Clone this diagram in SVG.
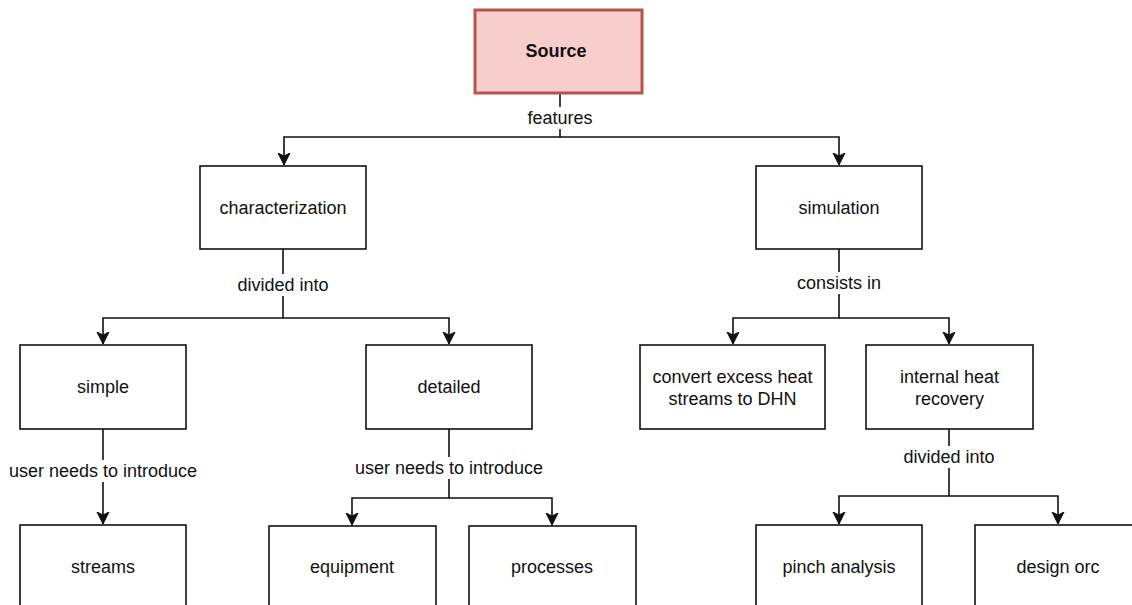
<svg xmlns="http://www.w3.org/2000/svg" width="1132" height="605" viewBox="0 0 1132 605">
  <style>
    .box { fill: #ffffff; stroke: #111111; stroke-width: 1.6; }
    .root { fill: #f8cecc; stroke: #b85450; stroke-width: 3; }
    .lbl { font-family: "Liberation Sans", Arial, sans-serif; font-size: 18px; fill: #111111; text-anchor: middle; }
    .bold { font-weight: bold; }
    .edge { fill: none; stroke: #111111; stroke-width: 1.6; }
    .bg { fill: #ffffff; }
  </style>
  <defs>
    <marker id="arrow" markerUnits="userSpaceOnUse" markerWidth="14" markerHeight="14" viewBox="0 -7 14 14" refX="12" refY="0" orient="auto">
      <path d="M0,-6 L12,0 L0,6 L3,0 Z" fill="#111111" stroke="#111111" stroke-width="1"/>
    </marker>
  </defs>
  <rect width="1132" height="605" fill="#ffffff"/>

  <!-- connectors -->
  <g id="connectors">
    <path class="edge" d="M560,93 V137 H284 V165" marker-end="url(#arrow)"/>
    <path class="edge" d="M560,137 H839 V165" marker-end="url(#arrow)"/>
    <path class="edge" d="M283,249 V318 H103 V344" marker-end="url(#arrow)"/>
    <path class="edge" d="M283,318 H449 V344" marker-end="url(#arrow)"/>
    <path class="edge" d="M103,429 V524" marker-end="url(#arrow)"/>
    <path class="edge" d="M449,429 V498 H352 V525" marker-end="url(#arrow)"/>
    <path class="edge" d="M449,498 H552 V525" marker-end="url(#arrow)"/>
    <path class="edge" d="M839,249 V318 H733 V344" marker-end="url(#arrow)"/>
    <path class="edge" d="M839,318 H949 V344" marker-end="url(#arrow)"/>
    <path class="edge" d="M949,429 V496 H839 V524" marker-end="url(#arrow)"/>
    <path class="edge" d="M949,496 H1058 V524" marker-end="url(#arrow)"/>

    <!-- edge labels -->
    <rect class="bg" x="524" y="107" width="72" height="22"/>
    <text class="lbl" x="560" y="124">features</text>
    <rect class="bg" x="233" y="274" width="100" height="22"/>
    <text class="lbl" x="283" y="291">divided into</text>
    <rect class="bg" x="792" y="272" width="94" height="22"/>
    <text class="lbl" x="839" y="289">consists in</text>
    <rect class="bg" x="7" y="460" width="193" height="22"/>
    <text class="lbl" x="103" y="477">user needs to introduce</text>
    <rect class="bg" x="353" y="457" width="193" height="22"/>
    <text class="lbl" x="449" y="474">user needs to introduce</text>
    <rect class="bg" x="899" y="446" width="100" height="22"/>
    <text class="lbl" x="949" y="463">divided into</text>
  </g>

  <g id="source">
    <rect class="root" x="475" y="10" width="167" height="83"/>
    <text class="lbl bold" x="556" y="57">Source</text>
  </g>
  <g id="characterization">
    <rect class="box" x="200" y="166" width="166" height="83"/>
    <text class="lbl" x="283" y="214">characterization</text>
  </g>
  <g id="simulation">
    <rect class="box" x="756" y="166" width="166" height="83"/>
    <text class="lbl" x="839" y="214">simulation</text>
  </g>
  <g id="simple">
    <rect class="box" x="20" y="345" width="166" height="84"/>
    <text class="lbl" x="103" y="393">simple</text>
  </g>
  <g id="detailed">
    <rect class="box" x="366" y="345" width="166" height="84"/>
    <text class="lbl" x="449" y="393">detailed</text>
  </g>
  <g id="convert">
    <rect class="box" x="640" y="345" width="185" height="84"/>
    <text class="lbl" x="732.5" y="383">convert excess heat</text>
    <text class="lbl" x="732.5" y="405">streams to DHN</text>
  </g>
  <g id="internal-heat-recovery">
    <rect class="box" x="866" y="345" width="167" height="84"/>
    <text class="lbl" x="949.5" y="383">internal heat</text>
    <text class="lbl" x="949.5" y="405">recovery</text>
  </g>
  <g id="streams">
    <rect class="box" x="20" y="525" width="166" height="84"/>
    <text class="lbl" x="103" y="573">streams</text>
  </g>
  <g id="equipment">
    <rect class="box" x="269" y="526" width="167" height="84"/>
    <text class="lbl" x="352" y="573">equipment</text>
  </g>
  <g id="processes">
    <rect class="box" x="469" y="526" width="167" height="84"/>
    <text class="lbl" x="552" y="573">processes</text>
  </g>
  <g id="pinch-analysis">
    <rect class="box" x="756" y="525" width="166" height="84"/>
    <text class="lbl" x="839" y="573">pinch analysis</text>
  </g>
  <g id="design-orc">
    <rect class="box" x="975" y="525" width="166" height="84"/>
    <text class="lbl" x="1058" y="573">design orc</text>
  </g>
</svg>
